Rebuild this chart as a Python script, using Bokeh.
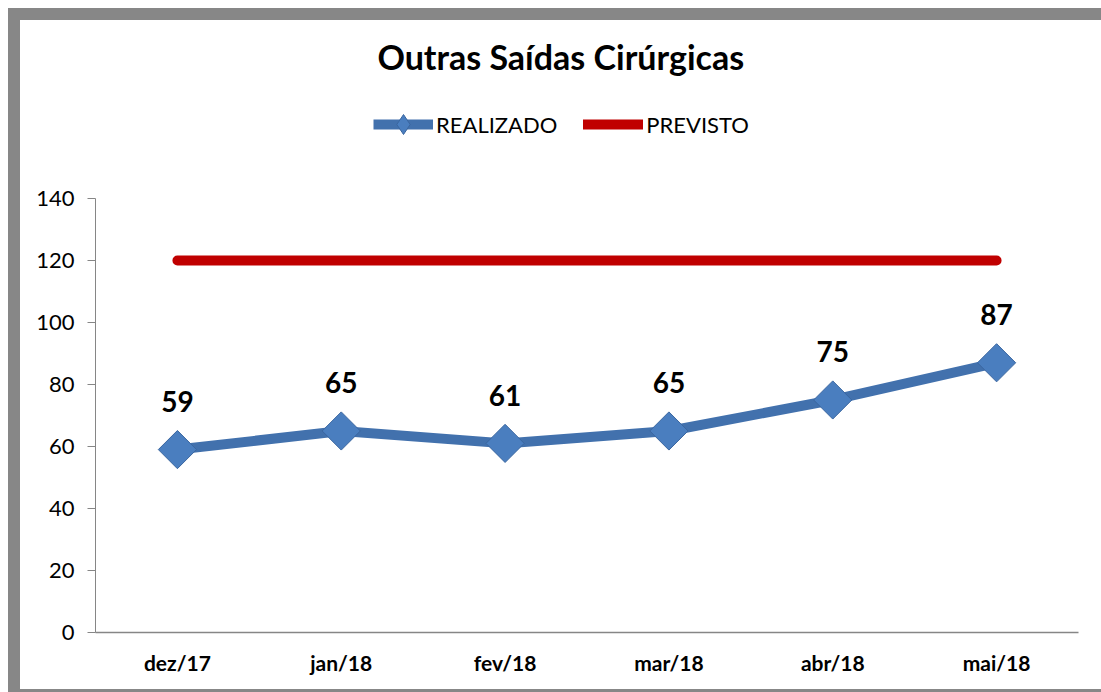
from bokeh.plotting import figure
from bokeh.models import FactorRange, Range1d, ColumnDataSource, Label, Legend, LegendItem, Spacer, Div
from bokeh.layouts import column, row
from bokeh.core.properties import value
from bokeh.embed import file_html
from bokeh.resources import INLINE
import math

months = ["dez/17", "jan/18", "fev/18", "mar/18", "abr/18", "mai/18"]
realizado = [59, 65, 61, 65, 75, 87]
previsto = [120, 120, 120, 120, 120, 120]
title_text = "Outras Saídas Cirúrgicas"

FONT = "Lato"
LINE_BLUE = "#4271AD"
RED = "#C00000"
GRAY = "#878787"

src = ColumnDataSource(dict(x=months, real=realizado, prev=previsto,
                            lbl=[str(v) for v in realizado]))


def bar(w, h):
    return Div(text="", width=w, height=h,
               styles={"background-color": GRAY, "margin": "0", "padding": "0"})


W, H = 1081, 669
p = figure(width=W, height=H, x_range=FactorRange(factors=months),
           y_range=Range1d(0, 197.4), output_backend="svg", toolbar_location=None,
           min_border_left=75, min_border_right=23, min_border_top=0,
           min_border_bottom=57)

p.outline_line_color = None
p.xgrid.grid_line_color = None
p.ygrid.grid_line_color = None
p.background_fill_color = "white"
p.border_fill_color = "white"

r_prev = p.line("x", "prev", source=src, line_color=RED, line_width=10, line_cap="round")
r_line = p.line("x", "real", source=src, line_color=LINE_BLUE, line_width=10, line_join="round")
r_pts = p.scatter("x", "real", source=src, marker="square", angle=math.pi / 4, size=27,
                  fill_color="#4A7EBF", line_color="#3A66A0", line_width=1)
# proxy used only for the legend swatch (drawn with zero size in the plot)
r_leg = p.scatter("x", "real", source=src, marker="diamond", size=0,
                  fill_color="#4A7EBF", line_color="#3A66A0", line_width=1)

p.text("x", "real", text="lbl", source=src, y_offset=-48, text_align="center",
       text_baseline="middle", text_font=value(FONT), text_font_style="bold",
       text_font_size="28px", text_color="black")

# axes
p.yaxis.bounds = (0, 140)
p.yaxis.ticker = [0, 20, 40, 60, 80, 100, 120, 140]
p.yaxis.axis_line_color = "#868686"
p.yaxis.major_tick_line_color = "#868686"
p.yaxis.major_tick_out = 8
p.yaxis.major_tick_in = 0
p.yaxis.minor_tick_line_color = None
p.yaxis.major_label_text_font = FONT
p.yaxis.major_label_text_font_size = "22px"
p.yaxis.major_label_text_color = "black"
p.yaxis.major_label_standoff = 13

p.xaxis.axis_line_color = "#868686"
p.xaxis.axis_line_width = 1.5
p.xaxis.major_tick_line_color = None
p.xaxis.minor_tick_line_color = None
p.xaxis.major_label_text_font = FONT
p.xaxis.major_label_text_font_style = "bold"
p.xaxis.major_label_text_font_size = "21px"
p.xaxis.major_label_text_color = "black"
p.xaxis.major_label_standoff = 11

# title
p.add_layout(Label(x=2.84, y=185.8, text=title_text, text_align="center",
                   text_baseline="middle", text_font=FONT, text_font_style="bold",
                   text_font_size="34px", text_color="black"))

legend = Legend(items=[LegendItem(label="REALIZADO", renderers=[r_line, r_leg]),
                       LegendItem(label="PREVISTO", renderers=[r_prev])],
                orientation="horizontal", location=(278, 483), padding=0, margin=0,
                border_line_color=None, background_fill_alpha=0,
                glyph_width=60, glyph_height=50, label_standoff=3, spacing=26,
                label_text_font=FONT, label_text_font_size="22px",
                label_text_color="black")
p.add_layout(legend, "center")

layout = column(
    Spacer(width=1101, height=8),
    row(Spacer(width=8, height=684),
        column(bar(1093, 12),
               row(bar(12, 672), column(p, bar(W, 3))))))

open("out.html", "w").write(file_html(layout, INLINE))
